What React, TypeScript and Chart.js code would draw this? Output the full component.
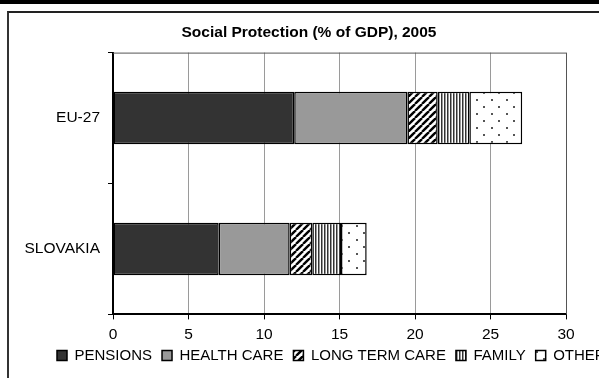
import { useEffect, useRef } from "react";
import { Chart, registerables } from "chart.js";

Chart.register(...registerables);

const categories = ["EU-27", "SLOVAKIA"];
const seriesNames = ["PENSIONS", "HEALTH CARE", "LONG TERM CARE", "FAMILY", "OTHER"];
const pensions = [12.0, 7.0];
const healthCare = [7.5, 4.7];
const longTermCare = [2.0, 1.5];
const family = [2.1, 1.9];
const other = [3.5, 1.7];
const xMin = 0;
const xMax = 30;
const xStep = 5;
const titleText = "Social Protection (% of GDP), 2005";

const FONT = '"Liberation Sans", Arial, sans-serif';

function makeTile(w: number, h: number, draw: (g: CanvasRenderingContext2D) => void) {
  const c = document.createElement("canvas");
  c.width = w;
  c.height = h;
  const g = c.getContext("2d")!;
  draw(g);
  return c;
}

function buildPatterns(ctx: CanvasRenderingContext2D) {
  const diag = makeTile(7, 7, (g) => {
    g.fillStyle = "#fff";
    g.fillRect(0, 0, 7, 7);
    g.strokeStyle = "#000";
    g.lineWidth = 2.4;
    for (const k of [-7, 0, 7]) {
      g.beginPath();
      g.moveTo(k, 7);
      g.lineTo(k + 7, 0);
      g.stroke();
    }
  });
  const vert = makeTile(3, 4, (g) => {
    g.fillStyle = "#fff";
    g.fillRect(0, 0, 3, 4);
    g.fillStyle = "#333";
    g.fillRect(0, 0, 1, 4);
    g.fillStyle = "#999";
    g.fillRect(1, 0, 1, 4);
  });
  const dots = makeTile(15, 14, (g) => {
    g.fillStyle = "#fff";
    g.fillRect(0, 0, 15, 14);
    g.fillStyle = "#555";
    g.fillRect(2, 2, 2, 2);
    g.fillRect(9, 9, 2, 2);
  });
  return {
    diag: ctx.createPattern(diag, "repeat")!,
    vert: ctx.createPattern(vert, "repeat")!,
    dots: ctx.createPattern(dots, "repeat")!,
  };
}

const plotBorder = {
  id: "plotBorder",
  afterDraw(chart: any) {
    const { ctx, chartArea } = chart;
    ctx.save();
    ctx.strokeStyle = "#555";
    ctx.lineWidth = 1;
    ctx.beginPath();
    ctx.moveTo(chartArea.left, chartArea.top + 0.5);
    ctx.lineTo(chartArea.right + 0.5, chartArea.top + 0.5);
    ctx.lineTo(chartArea.right + 0.5, chartArea.bottom);
    ctx.stroke();
    ctx.restore();
  },
};

const LEGEND_DX = 38;
const LEGEND_DY = -12;
const legendShift = {
  id: "legendShift",
  afterLayout(chart: any) {
    const l = chart.legend;
    if (l) {
      l.left += LEGEND_DX;
      l.right += LEGEND_DX;
      l.top += LEGEND_DY;
      l.bottom += LEGEND_DY;
    }
  },
};

export default function App() {
  const ref = useRef<HTMLCanvasElement | null>(null);

  useEffect(() => {
    const canvas = ref.current!;
    const ctx = canvas.getContext("2d")!;
    const p = buildPatterns(ctx);
    const seriesValues = [pensions, healthCare, longTermCare, family, other];
    const fills: any[] = ["#333333", "#999999", p.diag, p.vert, p.dots];

    const chart = new Chart(canvas, {
      type: "bar",
      data: {
        labels: categories,
        datasets: seriesNames.map((name, i) => ({
          label: name,
          data: seriesValues[i],
          backgroundColor: fills[i],
          borderColor: "#000",
          borderWidth: 1.5,
          borderSkipped: false,
          barPercentage: 0.4,
          categoryPercentage: 1,
        })),
      },
      options: {
        indexAxis: "y",
        responsive: false,
        animation: false,
        devicePixelRatio: 1,
        layout: { padding: 0 },
        scales: {
          x: {
            stacked: true,
            min: xMin,
            max: xMax,
            ticks: {
              stepSize: xStep,
              color: "#000",
              padding: 6,
              font: { family: FONT, size: 15.5 },
            },
            grid: { color: "#9a9a9a", tickColor: "#000", tickLength: 5 },
            border: { color: "#000", width: 2 },
          },
          y: {
            stacked: true,
            ticks: {
              color: "#000",
              padding: 8,
              font: { family: FONT, size: 15.5 },
            },
            grid: { drawOnChartArea: false, tickColor: "#000", tickLength: 5, offset: true },
            border: { color: "#000", width: 2 },
            afterFit: (s: any) => {
              s.width = 104;
            },
          },
          y2: {
            type: "category",
            position: "right",
            display: true,
            ticks: { display: false },
            grid: { display: false },
            border: { display: false },
            afterFit: (s: any) => {
              s.width = 43;
            },
          },
        },
        plugins: {
          title: {
            display: true,
            text: titleText,
            color: "#000",
            font: { family: FONT, size: 15.5, weight: "bold" },
            padding: { top: 10, bottom: 11 },
          },
          legend: {
            display: true,
            position: "bottom",
            align: "start",
            labels: {
              color: "#000",
              boxWidth: 10,
              boxHeight: 10,
              padding: 10,
              font: { family: FONT, size: 15 },
            },
          },
          tooltip: { enabled: false },
        },
      } as any,
      plugins: [plotBorder, legendShift],
    });
    return () => chart.destroy();
  }, []);

  return (
    <div
      style={{
        position: "fixed",
        left: 0,
        top: 0,
        width: 599,
        height: 378,
        overflow: "hidden",
        background: "#fff",
      }}
    >
      <div style={{ position: "absolute", left: 0, top: 0, width: 599, height: 4, background: "#000" }} />
      <div
        style={{
          position: "absolute",
          left: 7,
          top: 11,
          width: 700,
          height: 500,
          borderLeft: "2px solid #333",
          borderTop: "2px solid #222",
        }}
      />
      <canvas
        ref={ref}
        width={600}
        height={372}
        style={{ position: "absolute", left: 9, top: 13, width: 600, height: 372 }}
      />
    </div>
  );
}
